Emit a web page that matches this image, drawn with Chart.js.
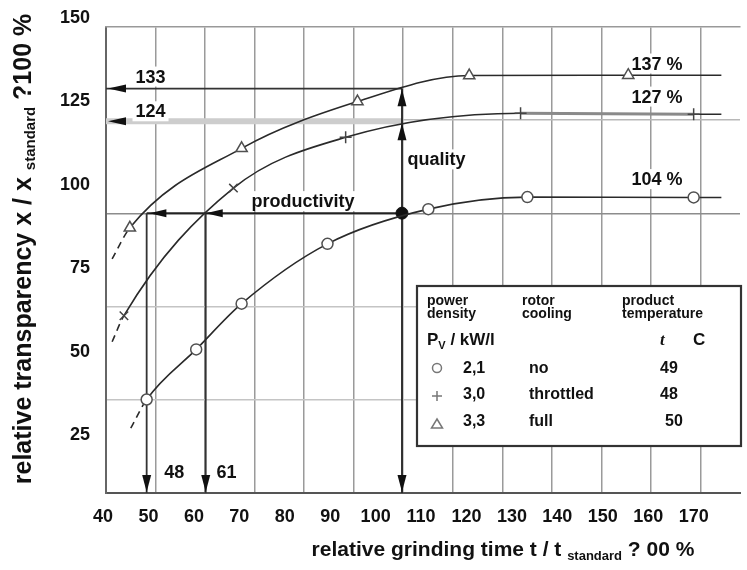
<!DOCTYPE html>
<html><head><meta charset="utf-8">
<script src="https://cdn.jsdelivr.net/npm/chart.js@4.4.1/dist/chart.umd.min.js"></script>
<style>html,body{margin:0;padding:0;background:#fff}#wrap{width:747px;height:570px}</style>
</head><body><div id="wrap"><canvas id="c" width="747" height="570"></canvas></div>
<script>
// ---- tick labels and grid positions ----
const xTickLabels = [40,50,60,70,80,90,100,110,120,130,140,150,160,170];
const yTickLabels = [25,50,75,100,125,150];
const xGridLines = [0,1,2,3,4,5,6,7,8,9,10,11,12];
const yGridLines = [0,1,2,3,4,5];

// ---- series (relative grinding time, relative transparency) ----
const circleX = [46.1, 49.6, 60.5, 70.5, 89.4, 111.6, 133.4, 170.0, 176.1];
const circleY = [27.1, 35.7, 50.7, 64.4, 82.3, 92.7, 96.3, 96.2, 96.2];
const plusX   = [42.0, 44.6, 68.7, 93.4, 131.9, 170.0, 176.1];
const plusY   = [53.0, 60.8, 99.0, 114.2, 121.4, 121.1, 121.1];
const triX    = [42.0, 45.9, 70.5, 96.0, 120.6, 155.6, 176.1];
const triY    = [77.8, 87.1, 110.9, 124.9, 132.7, 132.8, 132.8];
const pointX  = [105.8];
const pointY  = [91.5];

// ---- reading lines ----
const qualityX = 105.8;
const level133 = 128.8, level124 = 119.0, levelProd = 91.5;
const x48 = 49.6, x61 = 62.6;
const tipTri = 128.6, tipPlus = 118.4;
const prodTips = [50.2, 62.6];

// ---- annotations ----
const noteTexts = ['133','124','productivity','quality','137 %','127 %','104 %','48','61'];
const noteX = [50.45, 50.45, 84.0, 113.4, 161.95, 161.95, 161.95, 55.7, 67.2];
const noteY = [132.4, 122.0, 95.1, 107.6, 136.3, 126.4, 101.7, 14.0, 14.0];

const legendPower = ['2,1','3,0','3,3'];
const legendCooling = ['no','throttled','full'];
const legendTemp = ['49','48','50'];

const FONT = "'Liberation Sans', Arial, Helvetica, sans-serif";
const pts = (xs, ys) => xs.map((x, i) => ({x, y: ys[i]}));
const endsHidden = (arr, r) => arr.map((_, i) => (i === 0 || i === arr.length - 1) ? 0 : r);
const dashFirst = c => c.p0DataIndex === 0 ? [7, 5] : undefined;

function arrowHead(ctx, tx, ty, dir, len, hw) {
  len = len || 17; hw = hw || 4.5;
  ctx.save();
  ctx.translate(tx, ty);
  const ang = {left: Math.PI, right: 0, up: -Math.PI/2, down: Math.PI/2}[dir];
  ctx.rotate(ang);
  ctx.beginPath();
  ctx.moveTo(0, 0); ctx.lineTo(-len, -hw); ctx.lineTo(-len, hw); ctx.closePath();
  ctx.fillStyle = '#111'; ctx.fill();
  ctx.restore();
}
function line(ctx, x1, y1, x2, y2, color, w) {
  ctx.save(); ctx.beginPath(); ctx.moveTo(x1, y1); ctx.lineTo(x2, y2);
  ctx.strokeStyle = color; ctx.lineWidth = w; ctx.stroke(); ctx.restore();
}
function richText(ctx, parts, x, y, align) {
  let w = 0;
  parts.forEach(p => { ctx.font = p[1]; w += ctx.measureText(p[0]).width; });
  let cx = align === 'center' ? x - w / 2 : x;
  ctx.textAlign = 'left'; ctx.textBaseline = 'alphabetic';
  parts.forEach(p => { ctx.font = p[1]; ctx.fillText(p[0], cx, y + (p[2] || 0)); cx += ctx.measureText(p[0]).width; });
}

const annot = {
  id: 'annot',
  beforeDatasetsDraw(chart) {
    const {ctx, chartArea: a, scales: {x, y}} = chart;
    const X = v => x.getPixelForValue(v), Y = v => y.getPixelForValue(v);
    const bottom = a.bottom, left = a.left;
    line(ctx, X(qualityX), Y(level124), left, Y(level124), '#cdcdcd', 6);
    line(ctx, X(qualityX), Y(level133), left, Y(level133), '#333', 1.6);
    line(ctx, X(qualityX), Y(levelProd), X(x48), Y(levelProd), '#222', 2);
    line(ctx, X(x48), Y(levelProd), X(x48), bottom, '#333', 1.8);
    line(ctx, X(x61), Y(levelProd), X(x61), bottom, '#333', 1.8);
    line(ctx, X(qualityX), bottom, X(qualityX), Y(level133), '#222', 1.8);
    arrowHead(ctx, left + 2, Y(level133), 'left', 18, 4);
    arrowHead(ctx, left + 2, Y(level124), 'left', 18, 4);
    prodTips.forEach(t => arrowHead(ctx, X(t), Y(levelProd), 'left', 17, 4));
    [x48, x61, qualityX].forEach(v => arrowHead(ctx, X(v), bottom - 1, 'down', 17, 4.5));
    arrowHead(ctx, X(qualityX), Y(tipTri), 'up', 17, 4.5);
    arrowHead(ctx, X(qualityX), Y(tipPlus), 'up', 17, 4.5);
    ctx.save();
    ctx.font = 'bold 18px ' + FONT;
    noteTexts.forEach((t, i) => {
      const px = X(noteX[i]), py = Y(noteY[i]);
      const w = ctx.measureText(t).width;
      ctx.fillStyle = '#fff';
      ctx.fillRect(px - w / 2 - 3, py - 10, w + 6, 20);
    });
    ctx.fillStyle = '#111'; ctx.textAlign = 'center'; ctx.textBaseline = 'middle';
    noteTexts.forEach((t, i) => ctx.fillText(t, X(noteX[i]), Y(noteY[i]) + 1));
    ctx.restore();
  },
  afterDatasetsDraw(chart) {
    const ctx = chart.ctx;
    ctx.save();
    ctx.fillStyle = '#fff';
    ctx.fillRect(417, 286, 324, 160);
    ctx.strokeStyle = '#333'; ctx.lineWidth = 2.2;
    ctx.strokeRect(417, 286, 324, 160);
    ctx.fillStyle = '#111';
    ctx.textAlign = 'left'; ctx.textBaseline = 'alphabetic';
    ctx.font = 'bold 14px ' + FONT;
    ctx.fillText('power', 427, 305); ctx.fillText('density', 427, 318);
    ctx.fillText('rotor', 522, 305); ctx.fillText('cooling', 522, 318);
    ctx.fillText('product', 622, 305); ctx.fillText('temperature', 622, 318);
    richText(ctx, [['P', 'bold 17px ' + FONT], ['V', 'bold 11px ' + FONT, 4], [' / kW/l', 'bold 17px ' + FONT]], 427, 345, 'left');
    ctx.font = 'italic bold 17px "Liberation Serif", "Times New Roman", serif';
    ctx.fillText('t', 660, 345);
    ctx.font = 'bold 17px ' + FONT;
    ctx.fillText('C', 693, 345);
    const rowsY = [373, 399, 426];
    ctx.font = 'bold 16px ' + FONT;
    legendPower.forEach((t, i) => {
      ctx.fillText(t, 463, rowsY[i]);
      ctx.fillText(legendCooling[i], 529, rowsY[i]);
      ctx.fillText(legendTemp[i], i === 2 ? 665 : 660, rowsY[i]);
    });
    ctx.strokeStyle = '#777'; ctx.lineWidth = 1.5;
    ctx.beginPath(); ctx.arc(437, 368, 4.5, 0, Math.PI * 2); ctx.stroke();
    ctx.beginPath(); ctx.moveTo(432, 396); ctx.lineTo(442, 396); ctx.moveTo(437, 391); ctx.lineTo(437, 401); ctx.stroke();
    ctx.beginPath(); ctx.moveTo(437, 419); ctx.lineTo(442.5, 428); ctx.lineTo(431.5, 428); ctx.closePath(); ctx.stroke();
    ctx.restore();
  },
  afterDraw(chart) {
    const ctx = chart.ctx;
    ctx.save();
    ctx.fillStyle = '#111';
    richText(ctx, [['relative grinding time t / t ', 'bold 21px ' + FONT], ['standard', 'bold 13px ' + FONT, 4], [' ? 00 %', 'bold 21px ' + FONT]], 503, 556, 'center');
    ctx.translate(22, 249);
    ctx.rotate(-Math.PI / 2);
    richText(ctx, [['relative transparency x / x ', 'bold 25px ' + FONT], ['standard', 'bold 15px ' + FONT, 4], [' ?100 %', 'bold 25px ' + FONT]], 0, 9, 'center');
    ctx.restore();
  }
};

const common = {
  xAxisID: 'x', yAxisID: 'y', showLine: true, fill: false,
  borderColor: '#2a2a2a', borderWidth: 1.6, cubicInterpolationMode: 'monotone',
  pointBorderColor: '#505050', pointBorderWidth: 1.5, pointBackgroundColor: '#fff'
};

new Chart(document.getElementById('c'), {
  type: 'line',
  data: {
    datasets: [
      Object.assign({}, common, {
        label: '2,1', data: pts(circleX, circleY), pointStyle: 'circle',
        pointRadius: endsHidden(circleX, 5.5), segment: {borderDash: dashFirst}
      }),
      Object.assign({}, common, {
        label: '3,0', data: pts(plusX, plusY),
        pointStyle: ['cross', 'crossRot', 'crossRot', 'cross', 'cross', 'cross', 'cross'],
        pointRadius: endsHidden(plusX, 6), pointBorderColor: '#444',
        segment: {
          borderDash: dashFirst,
          borderColor: c => c.p0DataIndex === 4 ? '#8a8a8a' : undefined,
          borderWidth: c => c.p0DataIndex === 4 ? 3 : undefined
        }
      }),
      Object.assign({}, common, {
        label: '3,3', data: pts(triX, triY), pointStyle: 'triangle',
        pointRadius: endsHidden(triX, 6.5), segment: {borderDash: dashFirst}
      }),
      {
        label: 'operating point', data: pts(pointX, pointY), xAxisID: 'x', yAxisID: 'y',
        showLine: false, pointRadius: 6, pointBackgroundColor: '#111', pointBorderColor: '#111'
      }
    ]
  },
  options: {
    responsive: false, animation: false, devicePixelRatio: 1,
    layout: {padding: 0},
    plugins: {legend: {display: false}, tooltip: {enabled: false}, title: {display: false}},
    scales: {
      x: {
        type: 'linear', position: 'bottom', min: 40.65, max: 180.2,
        grid: {display: false, drawTicks: false},
        border: {display: true, color: '#555', width: 2},
        ticks: {font: {family: FONT, size: 18, weight: 'bold'}, color: '#111', padding: 13, autoSkip: false, maxRotation: 0, callback: v => String(v)},
        afterBuildTicks: s => { s.ticks = xTickLabels.map(v => ({value: v})); },
        afterFit: s => { s.height = 77; }
      },
      y: {
        type: 'linear', position: 'left', min: 7.7, max: 147.3,
        grid: {display: false, drawTicks: false},
        border: {display: true, color: '#666', width: 2},
        ticks: {font: {family: FONT, size: 18, weight: 'bold'}, color: '#111', padding: 16, autoSkip: false, callback: v => String(v)},
        afterBuildTicks: s => { s.ticks = yTickLabels.map(v => ({value: v})); },
        afterFit: s => { s.width = 106; }
      },
      xg: {
        type: 'linear', position: 'top', min: 0, max: 12.8,
        grid: {color: c => c.index === 0 ? 'rgba(0,0,0,0)' : '#9a9a9a', lineWidth: 1.5, drawTicks: false},
        border: {display: true, color: '#999', width: 1.5},
        ticks: {display: false},
        afterBuildTicks: s => { s.ticks = xGridLines.map(v => ({value: v})); },
        afterFit: s => { s.height = 25; }
      },
      yg: {
        type: 'linear', position: 'right', min: 0, max: 5,
        grid: {color: c => ['rgba(0,0,0,0)', '#c4c4c4', '#c4c4c4', '#8c8c8c', '#b8b8b8', 'rgba(0,0,0,0)'][c.index], lineWidth: 1.5, drawTicks: false},
        border: {display: false},
        ticks: {display: false},
        afterBuildTicks: s => { s.ticks = yGridLines.map(v => ({value: v})); },
        afterFit: s => { s.width = 0; }
      }
    }
  },
  plugins: [annot]
});
</script>
</body></html>
